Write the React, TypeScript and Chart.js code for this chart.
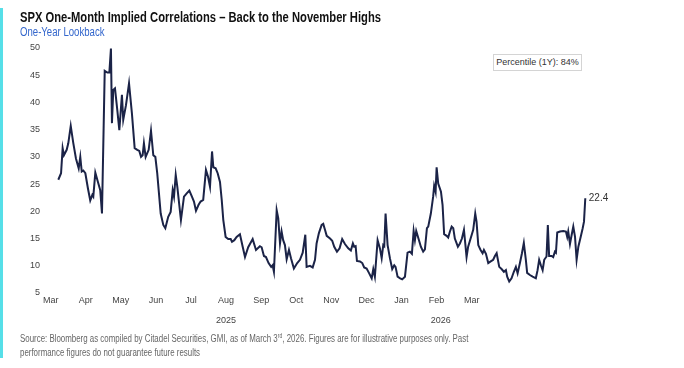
import { useEffect, useRef } from 'react';
import { Chart, registerables } from 'chart.js';

Chart.register(...registerables);

const monthLabels = ['Mar', 'Apr', 'May', 'Jun', 'Jul', 'Aug', 'Sep', 'Oct', 'Nov', 'Dec', 'Jan', 'Feb', 'Mar'];
const yearLabels = ['2025', '2026'];
const yearTickPositions = [5, 11.12];
const titleText = 'SPX One-Month Implied Correlations – Back to the November Highs';
const subtitleText = 'One-Year Lookback';
const percentileText = 'Percentile (1Y): 84%';

// calendar days since 3 Mar 2025
const dayOffsets = [
  0, 1.9, 3.0, 3.9, 5.8, 6.9, 8.6, 10.4, 12.2, 14.1,
  15.2, 16.2, 17.3, 18.7, 20.5, 22.1, 23.5, 24.2, 25.6, 27.7,
  29.0, 30.2, 32.1, 33.9, 35.3, 36.4, 37.1, 38.0, 39.2, 40.8,
  42.2, 44.0, 44.9, 46.8, 48.9, 50.9, 52.8, 54.6, 56.0, 57.2,
  58.3, 59.2, 60.4, 62.5, 64.1, 65.7, 67.1, 68.4, 70.8, 72.6,
  74.0, 76.0, 77.7, 79.1, 80.0, 81.2, 82.3, 84.8, 86.9, 88.8,
  90.6, 92.4, 93.8, 95.2, 97.0, 98.4, 100.2, 102.1, 103.5, 104.9,
  106.3, 107.2, 108.8, 110.2, 111.8, 113.0, 114.1, 115.7, 117.5, 119.2,
  120.1, 121.7, 123.3, 125.6, 127.5, 129.1, 131.3, 134.4, 136.7, 139.4,
  140.6, 142.2, 143.6, 145.4, 147.2, 148.2, 149.1, 151.0, 152.1, 153.3,
  154.4, 155.5, 156.7, 157.9, 159.5, 160.9, 162.9, 165.2, 167.1, 169.0,
  170.8, 171.7, 174.0, 175.9, 177.5, 178.6, 180.2, 182.1, 183.2, 184.4,
  185.6, 187.9, 189.4, 190.8, 192.7, 194.5, 196.3, 198.2, 200.5, 202.3,
  203.7, 204.6, 205.6, 206.5, 208.6, 210.2, 211.5, 213.2, 214.8, 216.7,
  217.8, 218.9, 220.8, 222.4, 223.6, 224.7, 225.4, 226.3, 227.7, 229.3,
  230.9, 232.3, 233.2, 234.6, 236.4, 237.8, 239.7, 241.5, 243.1, 244.5,
  245.7, 246.6, 247.5, 249.4, 250.7, 252.3, 253.5, 254.9, 255.8, 257.6,
  259.2, 259.9, 260.9, 261.6, 262.7, 264.6, 265.7, 266.8, 268.5, 269.6,
  270.8, 272.0, 273.1, 274.2, 276.3, 277.7, 279.1, 280.5, 281.4, 282.3,
  283.4, 285.1, 286.9, 288.3, 289.2, 290.4, 292.0, 293.4, 294.3, 295.7,
  297.3, 299.0, 300.7, 301.9, 303.1, 304.9, 306.5, 308.1, 309.5, 310.4,
  311.8, 313.4, 315.0, 316.4, 317.6, 319.2, 320.6, 321.9, 323.3, 324.2,
  326.1, 328.0, 330.2, 331.4, 332.5, 333.7, 334.9, 336.0, 337.6, 338.5,
  339.4, 341.1, 342.2, 343.4, 344.1, 345.0, 346.9, 349.2, 351.0, 351.9,
  352.6, 353.8, 355.0, 356.1, 357.3, 358.4, 359.6, 361.2, 362.6, 363.5,
  364.4,
];

const impliedCorrelation = [
  25.8, 27.0, 31.6, 30.3, 31.3, 32.5, 35.7, 32.5, 29.7, 27.9,
  30.0, 27.3, 27.5, 27.0, 24.2, 22.0, 23.0, 22.7, 27.1, 25.1,
  23.9, 19.6, 45.8, 45.5, 45.5, 49.9, 36.2, 42.3, 42.6, 38.6,
  34.9, 41.4, 36.8, 39.5, 43.5, 38.0, 31.6, 31.3, 31.1, 30.0,
  30.3, 32.5, 30.0, 31.3, 34.8, 30.3, 30.0, 27.0, 19.6, 17.5,
  16.9, 19.0, 19.9, 23.9, 22.7, 26.7, 24.5, 18.4, 22.7, 23.3,
  23.8, 22.7, 21.8, 20.1, 21.2, 21.8, 22.1, 27.6, 26.4, 24.5,
  31.0, 28.1, 27.9, 27.0, 25.4, 22.1, 18.4, 15.3, 14.9, 14.9,
  14.4, 14.7, 15.3, 15.8, 13.5, 11.6, 13.4, 14.9, 12.9, 13.6,
  13.4, 11.8, 11.6, 10.5, 9.8, 10.1, 8.9, 20.2, 18.7, 14.1,
  16.3, 14.7, 13.8, 11.2, 12.9, 11.4, 9.5, 10.5, 11.1, 12.4,
  15.7, 9.8, 10.0, 9.7, 11.1, 14.1, 16.0, 17.5, 17.7, 16.6,
  15.5, 15.0, 14.6, 13.5, 12.6, 13.2, 14.9, 14.0, 13.2, 12.8,
  14.1, 13.5, 13.6, 10.9, 10.8, 10.5, 9.7, 9.5, 8.7, 7.7,
  9.4, 8.0, 14.7, 13.2, 11.4, 13.8, 13.6, 19.6, 13.8, 11.4,
  9.4, 10.1, 9.8, 8.0, 7.7, 7.5, 8.0, 12.4, 12.6, 12.2,
  16.4, 14.7, 16.4, 14.7, 13.5, 12.6, 13.0, 16.9, 17.2, 19.6,
  22.7, 24.7, 23.6, 28.1, 25.1, 23.6, 21.2, 15.8, 15.5, 15.2,
  16.3, 17.2, 16.9, 15.0, 13.5, 14.1, 15.0, 16.6, 14.1, 11.6,
  13.5, 15.0, 16.6, 19.6, 18.1, 13.8, 12.9, 12.3, 12.9, 12.2,
  10.5, 10.8, 11.1, 11.8, 12.3, 9.8, 9.4, 8.9, 9.2, 8.0,
  7.1, 7.7, 8.9, 9.8, 8.6, 10.5, 12.3, 14.2, 11.1, 8.7,
  8.3, 8.0, 7.7, 9.2, 11.1, 10.1, 9.2, 11.1, 11.7, 17.5,
  11.8, 11.8, 11.6, 12.6, 12.4, 16.1, 16.3, 16.4, 16.3, 15.3,
  16.3, 14.0, 15.7, 17.2, 15.3, 11.1, 13.5, 15.3, 16.9, 18.1,
  22.4,
];

const FONT = "'Liberation Sans', Arial, sans-serif";

const lastValuePlugin = {
  id: 'lastValue',
  afterDatasetsDraw(chart: any) {
    const meta = chart.getDatasetMeta(0);
    const pt = meta.data[meta.data.length - 1];
    if (!pt) return;
    const ctx = chart.ctx;
    ctx.save();
    ctx.font = `10px ${FONT}`;
    ctx.fillStyle = '#333333';
    ctx.textAlign = 'left';
    ctx.textBaseline = 'middle';
    ctx.fillText(impliedCorrelation[impliedCorrelation.length - 1].toFixed(1), pt.x + 3.5, pt.y);
    ctx.restore();
  },
};

export default function App() {
  const ref = useRef<HTMLCanvasElement>(null);

  useEffect(() => {
    if (!ref.current) return;
    const points = dayOffsets.map((d, i) => ({ x: d, y: impliedCorrelation[i] }));
    const tickFont = { family: FONT, size: 9 };
    const chart = new Chart(ref.current, {
      type: 'line',
      data: {
        datasets: [
          {
            data: points,
            xAxisID: 'x',
            yAxisID: 'y',
            borderColor: '#1b2347',
            borderWidth: 2,
            pointRadius: 0,
            tension: 0,
            fill: false,
            clip: false as any,
          },
        ],
      },
      options: {
        animation: false,
        responsive: false,
        maintainAspectRatio: false,
        parsing: false as any,
        layout: { padding: { left: 0, right: 84, top: 48, bottom: 30 } },
        plugins: {
          legend: { display: false },
          tooltip: { enabled: false },
          title: { display: false },
        },
        scales: {
          x: { type: 'linear', display: false, min: -9.197, max: 374.57 },
          xm: {
            type: 'linear',
            position: 'bottom',
            weight: 1,
            min: -0.1625,
            max: 15.659,
            grid: { display: false, drawTicks: false },
            border: { display: false },
            ticks: {
              autoSkip: false,
              maxRotation: 0,
              padding: 2,
              font: tickFont,
              color: '#444444',
              callback: (v: any) => monthLabels[Math.round(Number(v))] ?? '',
            },
            afterBuildTicks: (s: any) => {
              s.ticks = monthLabels.map((_, i) => ({ value: i }));
            },
            afterFit: (s: any) => {
              s.height = 15;
            },
          },
          xy: {
            type: 'linear',
            position: 'bottom',
            weight: 2,
            min: -0.1625,
            max: 15.659,
            grid: { display: false, drawTicks: false },
            border: { display: false },
            ticks: {
              autoSkip: false,
              maxRotation: 0,
              padding: 7,
              font: tickFont,
              color: '#444444',
              callback: (_v: any, i: number) => yearLabels[i] ?? '',
            },
            afterBuildTicks: (s: any) => {
              s.ticks = yearTickPositions.map((p) => ({ value: p }));
            },
            afterFit: (s: any) => {
              s.height = 30;
            },
          },
          y: {
            type: 'linear',
            position: 'left',
            min: 5,
            max: 50,
            grid: { display: false, drawTicks: false },
            border: { display: false },
            ticks: { stepSize: 5, padding: 5, font: tickFont, color: '#444444' },
            afterFit: (s: any) => {
              s.width = 45;
            },
          },
        },
      } as any,
      plugins: [lastValuePlugin],
    });
    return () => chart.destroy();
  }, []);

  return (
    <div
      style={{
        position: 'fixed',
        left: 0,
        top: 0,
        width: 684,
        height: 368,
        background: '#ffffff',
        overflow: 'hidden',
        fontFamily: FONT,
      }}
    >
      <canvas ref={ref} width={684} height={368} style={{ position: 'absolute', left: 0, top: 0, width: 684, height: 368 }} />
      <div style={{ position: 'absolute', left: 0, top: 8, width: 3, height: 350, background: '#56dfe8' }} />
      <div
        style={{
          position: 'absolute',
          left: 20,
          top: 10,
          fontSize: 14,
          lineHeight: '14px',
          fontWeight: 'bold',
          color: '#111111',
          whiteSpace: 'nowrap',
          transform: 'scaleX(0.8)',
          transformOrigin: 'left top',
        }}
      >
        {titleText}
      </div>
      <div
        style={{
          position: 'absolute',
          left: 20,
          top: 26,
          fontSize: 12,
          lineHeight: '12px',
          color: '#3366cc',
          whiteSpace: 'nowrap',
          transform: 'scaleX(0.8)',
          transformOrigin: 'left top',
        }}
      >
        {subtitleText}
      </div>
      <div
        style={{
          position: 'absolute',
          left: 493,
          top: 54,
          width: 89,
          height: 17,
          boxSizing: 'border-box',
          border: '1px solid #d4d4d4',
          background: '#ffffff',
          fontSize: 9,
          lineHeight: '15px',
          textAlign: 'center',
          color: '#333333',
          whiteSpace: 'nowrap',
        }}
      >
        {percentileText}
      </div>
      <div
        style={{
          position: 'absolute',
          left: 19.5,
          top: 332,
          fontSize: 10,
          lineHeight: '14px',
          color: '#666666',
          whiteSpace: 'nowrap',
          transform: 'scaleX(0.79)',
          transformOrigin: 'left top',
        }}
      >
        Source: Bloomberg as compiled by Citadel Securities, GMI, as of March 3
        <sup style={{ fontSize: 6.5, lineHeight: 0, verticalAlign: 'super' }}>rd</sup>, 2026. Figures are for illustrative purposes only. Past
        <br />
        performance figures do not guarantee future results
      </div>
    </div>
  );
}
